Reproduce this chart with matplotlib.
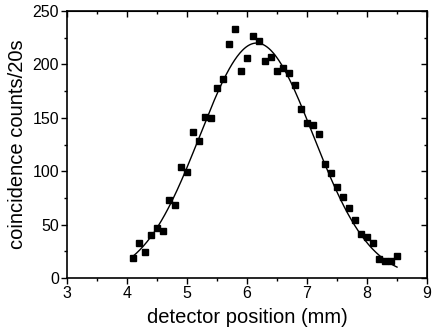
import numpy as np
import matplotlib
matplotlib.use("Agg")
import matplotlib.pyplot as plt
from matplotlib.ticker import MultipleLocator

# measured coincidence counts vs detector position
positions = [4.1, 4.2, 4.3, 4.4, 4.5, 4.6, 4.7, 4.8, 4.9, 5.0,
             5.1, 5.2, 5.3, 5.4, 5.5, 5.6, 5.7, 5.8, 5.9, 6.0,
             6.1, 6.2, 6.3, 6.4, 6.5, 6.6, 6.7, 6.8, 6.9, 7.0,
             7.1, 7.2, 7.3, 7.4, 7.5, 7.6, 7.7, 7.8, 7.9, 8.0,
             8.1, 8.2, 8.3, 8.4, 8.5]
counts = [19, 33, 24, 40, 47, 44, 73, 68, 104, 99,
          137, 128, 151, 150, 178, 186, 219, 233, 194, 206,
          227, 222, 203, 207, 194, 197, 192, 181, 158, 145,
          143, 135, 107, 98, 85, 76, 66, 54, 41, 38,
          33, 18, 16, 16, 21]

# gaussian fit parameters
fit_amp = 220.0
fit_center = 6.16
fit_sigma = 0.945

plt.rcParams['font.family'] = ['Liberation Sans', 'DejaVu Sans']

fig = plt.figure(figsize=(4.36, 3.33), dpi=100)
ax = fig.add_axes([0.1537, 0.165, 0.9794 - 0.1537, 0.967 - 0.165])

xf = np.linspace(positions[0], positions[-1], 300)
yf = fit_amp * np.exp(-(xf - fit_center) ** 2 / (2 * fit_sigma ** 2))
ax.plot(xf, yf, color='black', linewidth=1.0)
ax.plot(positions, counts, 's', color='black', markersize=4.3)

ax.set_xlim(3, 9)
ax.set_ylim(0, 250)
ax.xaxis.set_major_locator(MultipleLocator(1))
ax.xaxis.set_minor_locator(MultipleLocator(0.5))
ax.yaxis.set_major_locator(MultipleLocator(50))
ax.yaxis.set_minor_locator(MultipleLocator(25))

for s in ax.spines.values():
    s.set_linewidth(1.2)
ax.tick_params(which='major', direction='out', length=4.3, width=1.0,
               labelsize=11.5, pad=1.5)
ax.tick_params(which='minor', direction='out', length=2.4, width=1.0)

# inward ticks on the top and right frame
top = ax.secondary_xaxis('top')
top.xaxis.set_major_locator(MultipleLocator(1))
top.xaxis.set_minor_locator(MultipleLocator(0.5))
top.tick_params(which='major', direction='in', length=4.3, width=1.0, labeltop=False)
top.tick_params(which='minor', direction='in', length=2.4, width=1.0)
right = ax.secondary_yaxis('right')
right.yaxis.set_major_locator(MultipleLocator(50))
right.yaxis.set_minor_locator(MultipleLocator(25))
right.tick_params(which='major', direction='in', length=4.3, width=1.0, labelright=False)
right.tick_params(which='minor', direction='in', length=2.4, width=1.0)

ax.set_xlabel('detector position (mm)', fontsize=14.5, labelpad=5)
ax.set_ylabel('coincidence counts/20s', fontsize=14.5, labelpad=3.5)

fig.savefig('out.png', dpi=100)
